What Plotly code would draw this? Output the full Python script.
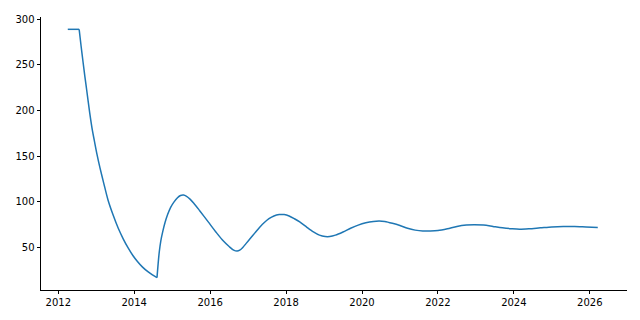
import plotly.graph_objects as go

years = [2012.25, 2012.55, 2012.60, 2012.65, 2012.70, 2012.75, 2012.83, 2012.90,
         2012.95, 2013.02, 2013.10, 2013.20, 2013.31, 2013.44, 2013.58,
         2013.71, 2013.84, 2013.96, 2014.08, 2014.22, 2014.36, 2014.48, 2014.60,
         2014.63, 2014.66, 2014.70, 2014.75, 2014.81, 2014.88, 2014.96, 2015.05,
         2015.14, 2015.22, 2015.30, 2015.38, 2015.47, 2015.57, 2015.73, 2015.95,
         2016.17, 2016.35, 2016.50, 2016.62, 2016.71, 2016.78, 2016.86, 2016.95,
         2017.05, 2017.18, 2017.30, 2017.42, 2017.55, 2017.68, 2017.82, 2017.95,
         2018.08, 2018.22, 2018.36, 2018.55, 2018.72, 2018.88, 2019.03, 2019.15,
         2019.30, 2019.50, 2019.70, 2019.90, 2020.10, 2020.30, 2020.45, 2020.60,
         2020.80, 2021.00, 2021.20, 2021.40, 2021.60, 2021.80, 2022.00, 2022.25,
         2022.50, 2022.75, 2022.95, 2023.20, 2023.45, 2023.70, 2023.95, 2024.15,
         2024.40, 2024.70, 2025.00, 2025.30, 2025.60, 2025.90, 2026.21]
values = [289, 289, 271, 254, 237.5, 222, 197, 178,
          167, 152, 137, 120, 102, 86, 71,
          59.5, 49.5, 41.5, 35, 28.5, 23.5, 20, 17,
          32, 45, 57, 67, 77, 86, 94, 100,
          104.5, 107, 107.5, 106, 103, 98.5, 90, 78,
          66, 57, 51, 47, 46, 47, 50, 54.5,
          59.5, 66, 72, 77, 81.5, 84.5, 86, 86,
          84.5, 81.5, 78, 72, 67, 63.5, 62, 62,
          63.5, 67, 71, 74.5, 77, 78.5, 79, 78.5,
          76.5, 74, 71, 69, 68, 68, 68.5, 70.5,
          73, 74.5, 75, 74.5, 73, 71.5, 70.5, 70,
          70.5, 71.5, 72.5, 73, 73, 72.5, 72]

x_ticks = [2012, 2014, 2016, 2018, 2020, 2022, 2024, 2026]
y_ticks = [50, 100, 150, 200, 250, 300]

# indices of sharp corners in the series (end of flat part, minimum)
i_corner1 = years.index(2012.55)
i_corner2 = years.index(2014.60)
segments = [(0, i_corner1 + 1, "linear"),
            (i_corner1, i_corner2 + 1, "spline"),
            (i_corner2, len(years), "spline")]

fig = go.Figure()
for a, b, shape in segments:
    fig.add_trace(go.Scatter(x=years[a:b], y=values[a:b], mode="lines",
                             line=dict(color="#1f77b4", width=1.5, shape=shape, smoothing=0.8),
                             showlegend=False, hoverinfo="skip"))

axis_common = dict(showgrid=False, zeroline=False, showline=True, linecolor="black",
                   linewidth=0.8, ticks="outside", ticklen=3.5, tickwidth=0.8,
                   tickcolor="black", tickfont=dict(family="DejaVu Sans", size=10, color="black"))

fig.update_xaxes(range=[2011.545, 2026.98], tickvals=x_ticks,
                 ticktext=[str(t) for t in x_ticks], **axis_common)
fig.update_yaxes(range=[3.4, 302.5], tickvals=y_ticks,
                 ticktext=[str(t) for t in y_ticks], **axis_common)

fig.update_layout(width=640, height=320, margin=dict(l=41, r=13, t=17, b=30),
                  paper_bgcolor="white", plot_bgcolor="white",
                  font=dict(family="DejaVu Sans", size=10, color="black"))

fig.write_html("out.html")
